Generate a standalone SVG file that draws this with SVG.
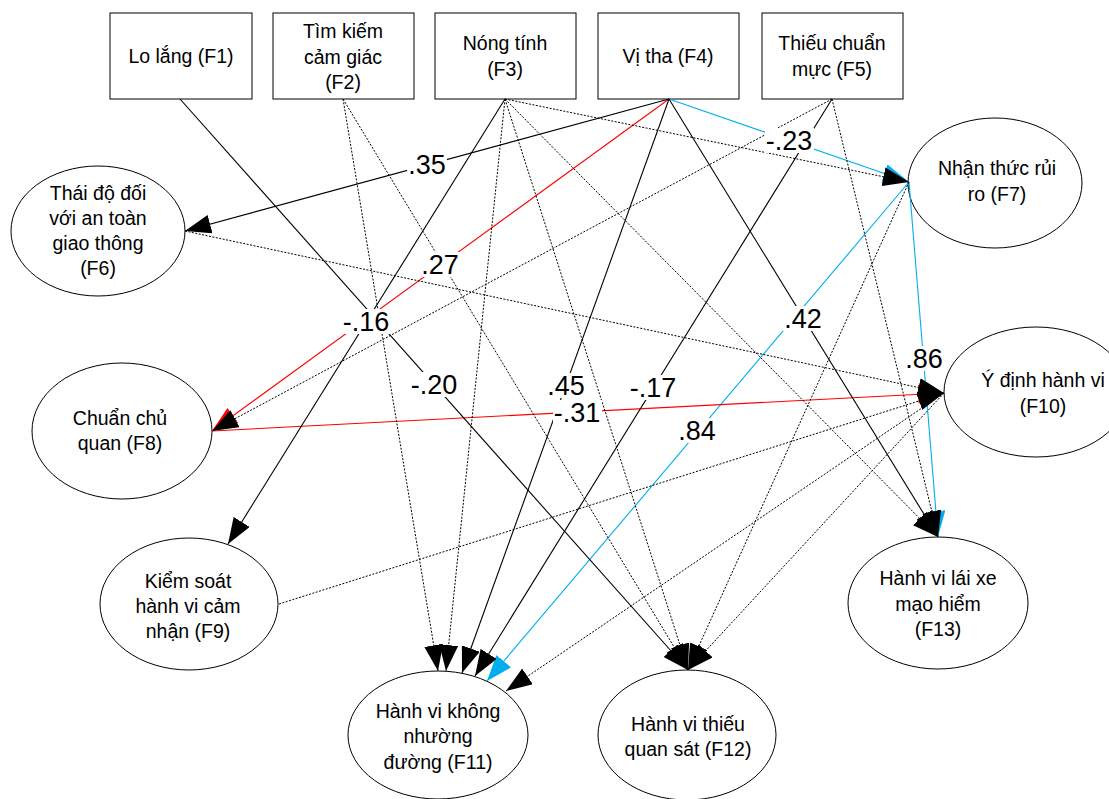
<svg xmlns="http://www.w3.org/2000/svg" width="1109" height="799" viewBox="0 0 1109 799">
<style>
.box{fill:#fff;stroke:#000;stroke-width:1}
.ell{fill:#fff;stroke:#000;stroke-width:1}
.t{font-family:"Liberation Sans",Arial,sans-serif;font-size:19.5px;fill:#000;text-anchor:middle}
.lab{font-family:"Liberation Sans",Arial,sans-serif;font-size:27px;fill:#000;text-anchor:middle}
.lbg{fill:#fff;stroke:none}
.s{stroke:#000;stroke-width:1.1;fill:none;marker-end:url(#ab)}
.d{stroke:#000;stroke-width:1;stroke-dasharray:2 1.5;fill:none;marker-end:url(#ab)}
.r{stroke:#ff0000;stroke-width:1.1;fill:none;marker-end:url(#ar)}
.c{stroke:#00aeef;stroke-width:1.1;fill:none;marker-end:url(#ac)}
</style>
<defs>
<marker id="ab" markerUnits="userSpaceOnUse" markerWidth="27" markerHeight="20" refX="26" refY="9.5" orient="auto"><path d="M0,0 L26,9.5 L0,19 z" fill="#000"/></marker>
<marker id="ar" markerUnits="userSpaceOnUse" markerWidth="27" markerHeight="20" refX="26" refY="9.5" orient="auto"><path d="M0,0 L26,9.5 L0,19 z" fill="#ff0000"/></marker>
<marker id="ac" markerUnits="userSpaceOnUse" markerWidth="27" markerHeight="20" refX="26" refY="9.5" orient="auto"><path d="M0,0 L26,9.5 L0,19 z" fill="#00aeef"/></marker>
</defs>
<rect width="1109" height="799" fill="#fff"/>

<g id="nodes">
<g id="F1"><rect class="box" x="110" y="13" width="142" height="86"/><text class="t" x="181" y="63">Lo lắng (F1)</text></g>
<g id="F2"><rect class="box" x="273" y="13" width="141" height="86"/><text class="t" x="343" y="38">Tìm kiếm</text><text class="t" x="343" y="64">cảm giác</text><text class="t" x="343" y="89">(F2)</text></g>
<g id="F3"><rect class="box" x="435" y="13" width="141" height="86"/><text class="t" x="505" y="50">Nóng tính</text><text class="t" x="505" y="76">(F3)</text></g>
<g id="F4"><rect class="box" x="598" y="13" width="141" height="86"/><text class="t" x="668" y="63">Vị tha (F4)</text></g>
<g id="F5"><rect class="box" x="762" y="13" width="141" height="86"/><text class="t" x="832" y="50">Thiếu chuẩn</text><text class="t" x="832" y="76">mực (F5)</text></g>
<g id="F6"><ellipse class="ell" cx="98" cy="231" rx="87" ry="65"/><text class="t" x="98" y="200">Thái độ đối</text><text class="t" x="98" y="225">với an toàn</text><text class="t" x="98" y="250">giao thông</text><text class="t" x="98" y="275">(F6)</text></g>
<g id="F7"><ellipse class="ell" cx="995" cy="183" rx="87" ry="65"/><text class="t" x="997" y="175">Nhận thức rủi</text><text class="t" x="997" y="201">ro (F7)</text></g>
<g id="F8"><ellipse class="ell" cx="122" cy="431" rx="90" ry="68"/><text class="t" x="120" y="425">Chuẩn chủ</text><text class="t" x="120" y="450">quan (F8)</text></g>
<g id="F9"><ellipse class="ell" cx="189" cy="604" rx="89" ry="66"/><text class="t" x="188" y="588">Kiểm soát</text><text class="t" x="188" y="613">hành vi cảm</text><text class="t" x="188" y="638">nhận (F9)</text></g>
<g id="F10"><ellipse class="ell" cx="1036" cy="392" rx="92" ry="65"/><text class="t" x="1043" y="387">Ý định hành vi</text><text class="t" x="1043" y="413">(F10)</text></g>
<g id="F11"><ellipse class="ell" cx="438" cy="735" rx="90" ry="64"/><text class="t" x="438" y="718">Hành vi không</text><text class="t" x="438" y="743">nhường</text><text class="t" x="438" y="769">đường (F11)</text></g>
<g id="F12"><ellipse class="ell" cx="687" cy="735" rx="89" ry="65"/><text class="t" x="688" y="731">Hành vi thiếu</text><text class="t" x="688" y="756">quan sát (F12)</text></g>
<g id="F13"><ellipse class="ell" cx="938" cy="603" rx="90" ry="66"/><text class="t" x="938" y="585">Hành vi lái xe</text><text class="t" x="938" y="611">mạo hiểm</text><text class="t" x="938" y="636">(F13)</text></g>
</g>

<g id="connectors">
<line class="c" x1="669" y1="99" x2="909" y2="182"/>
<line class="c" x1="909" y1="182" x2="487" y2="681"/>
<line class="c" x1="909" y1="182" x2="938" y2="537"/>
<line class="r" x1="669" y1="99" x2="212" y2="431"/>
<line class="r" x1="212" y1="431" x2="944" y2="393"/>
<line class="d" x1="343" y1="99" x2="438" y2="671"/>
<line class="d" x1="343" y1="99" x2="688" y2="670"/>
<line class="d" x1="505" y1="99" x2="909" y2="182"/>
<line class="d" x1="505" y1="99" x2="446" y2="671"/>
<line class="d" x1="505" y1="99" x2="688" y2="670"/>
<line class="d" x1="505" y1="99" x2="938" y2="537"/>
<line class="d" x1="832" y1="99" x2="212" y2="431"/>
<line class="d" x1="832" y1="99" x2="938" y2="537"/>
<line class="d" x1="185" y1="231" x2="944" y2="393"/>
<line class="d" x1="279" y1="604" x2="944" y2="393"/>
<line class="d" x1="909" y1="182" x2="688" y2="670"/>
<line class="d" x1="944" y1="393" x2="506" y2="691"/>
<line class="d" x1="944" y1="393" x2="688" y2="670"/>
<line class="s" x1="180" y1="99" x2="688" y2="670"/>
<line class="s" x1="505" y1="99" x2="228" y2="544"/>
<line class="s" x1="669" y1="99" x2="185" y2="231"/>
<line class="s" x1="669" y1="99" x2="462" y2="673"/>
<line class="s" x1="669" y1="99" x2="938" y2="537"/>
<line class="s" x1="832" y1="99" x2="475" y2="676"/>
</g>

<g id="labels">
<rect class="lbg" x="407" y="152" width="40" height="25"/><text class="lab" x="427" y="174">.35</text>
<rect class="lbg" x="420" y="252" width="40" height="25"/><text class="lab" x="440" y="274">.27</text>
<rect class="lbg" x="342" y="309" width="49" height="25"/><text class="lab" x="366" y="331">-.16</text>
<rect class="lbg" x="410" y="372" width="49" height="25"/><text class="lab" x="434" y="394">-.20</text>
<rect class="lbg" x="546" y="373" width="40" height="25"/><text class="lab" x="566" y="395">.45</text>
<rect class="lbg" x="553" y="400" width="49" height="25"/><text class="lab" x="577" y="422">-.31</text>
<rect class="lbg" x="629" y="375" width="49" height="25"/><text class="lab" x="653" y="397">-.17</text>
<rect class="lbg" x="677" y="418" width="40" height="25"/><text class="lab" x="697" y="440">.84</text>
<rect class="lbg" x="765" y="128" width="49" height="25"/><text class="lab" x="789" y="150">-.23</text>
<rect class="lbg" x="904" y="346" width="40" height="25"/><text class="lab" x="924" y="368">.86</text>
<rect class="lbg" x="783" y="306" width="40" height="25"/><text class="lab" x="803" y="328">.42</text>
</g>
</svg>
